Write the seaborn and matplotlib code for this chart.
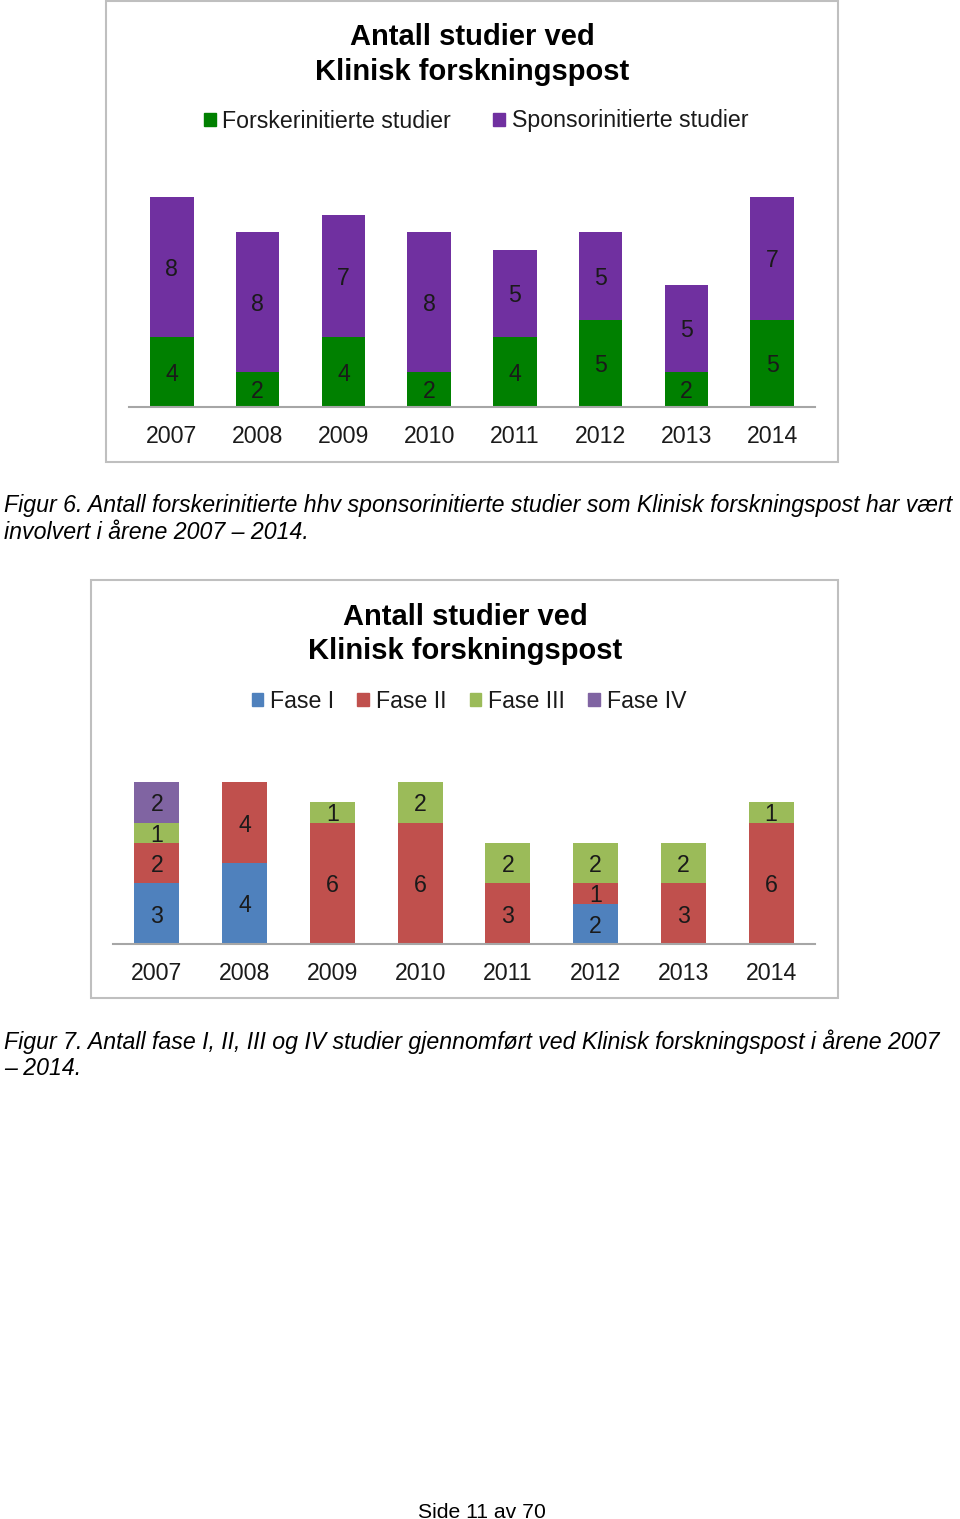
import numpy as np
import pandas as pd
import seaborn as sns
import matplotlib.pyplot as plt
from matplotlib.patches import Patch, Rectangle

# data read from the page
years = ['2007', '2008', '2009', '2010', '2011', '2012', '2013', '2014']

forsker = [4, 2, 4, 2, 4, 5, 2, 5]
sponsor = [8, 8, 7, 8, 5, 5, 5, 7]

fase1 = [3, 4, 0, 0, 0, 2, 0, 0]
fase2 = [2, 4, 6, 6, 3, 1, 3, 6]
fase3 = [1, 0, 1, 2, 2, 2, 2, 1]
fase4 = [2, 0, 0, 0, 0, 0, 0, 0]

W, H = 960, 1519

sns.set_theme(style='white')
plt.rcParams['font.family'] = ['Liberation Sans', 'DejaVu Sans']

fig = plt.figure(figsize=(W / 100, H / 100), dpi=100)
fig.patch.set_facecolor('white')

FS = 16.7
TXT = '#1a1a1a'


def fx(px):
    return px / W


def fy(py):
    return 1 - py / H


def stacked(ax, layers, colors):
    # seaborn has no stacking, so draw cumulative totals from the top layer down
    cum = np.cumsum(np.array(layers), axis=0)
    for i in range(len(layers) - 1, -1, -1):
        df = pd.DataFrame({'year': years, 'val': cum[i]})
        sns.barplot(data=df, x='year', y='val', color=colors[i], saturation=1,
                    width=0.51, errorbar=None, linewidth=0, ax=ax)
    for i, layer in enumerate(layers):
        for j, v in enumerate(layer):
            if v > 0:
                ax.text(j, cum[i][j] - v / 2, str(v), ha='center', va='center_baseline',
                        fontsize=FS, color=TXT)
    for s in ['top', 'left', 'right']:
        ax.spines[s].set_visible(False)
    ax.spines['bottom'].set_color('#a6a6a6')
    ax.spines['bottom'].set_linewidth(1.5)
    ax.set_yticks([])
    ax.set_xlabel('')
    ax.set_ylabel('')
    ax.set_xlim(-0.5, len(years) - 0.5)
    ax.tick_params(axis='x', length=0, labelsize=FS, pad=13, labelcolor=TXT)
    ax.set_facecolor('none')


def box(x0, y0, x1, y1):
    fig.patches.append(Rectangle((fx(x0), fy(y1)), fx(x1 - x0), (y1 - y0) / H,
                                 transform=fig.transFigure, fill=False,
                                 edgecolor='#bfbfbf', linewidth=1.5))


def title(x, y, s):
    fig.text(fx(x), fy(y), s, ha='center', va='center_baseline',
             fontsize=21, fontweight='bold', color='black')


def caption(y, s):
    fig.text(fx(4), fy(y), s, ha='left', va='center_baseline',
             fontsize=16.7, fontstyle='italic', color='black')


# ---- chart 1 ----
box(106, 1, 838, 462)
title(472, 34, 'Antall studier ved')
title(472, 69, 'Klinisk forskningspost')

ax1 = fig.add_axes([fx(129), fy(407), fx(815 - 129), (407 - 197) / H])
c1 = ['#008000', '#7030a0']
stacked(ax1, [forsker, sponsor], c1)
ax1.set_ylim(0, 12)
fig.legend(handles=[Patch(color=c1[0], label='Forskerinitierte studier'),
                    Patch(color=c1[1], label='Sponsorinitierte studier')],
           loc='center', bbox_to_anchor=(fx(476), fy(121)), ncol=2, frameon=False,
           fontsize=FS, handlelength=0.5, handleheight=0.5, handletextpad=0.3,
           columnspacing=1.8, labelcolor=TXT)

caption(503, 'Figur 6. Antall forskerinitierte hhv sponsorinitierte studier '
        'som Klinisk forskningspost har vært')
caption(530, 'involvert i årene 2007 – 2014.')

# ---- chart 2 ----
box(91, 580, 838, 998)
title(465, 614, 'Antall studier ved')
title(465, 648, 'Klinisk forskningspost')

ax2 = fig.add_axes([fx(113), fy(944), fx(815 - 113), (944 - 782) / H])
c2 = ['#4f81bd', '#c0504d', '#9bbb59', '#8064a2']
stacked(ax2, [fase1, fase2, fase3, fase4], c2)
ax2.set_ylim(0, 8)
fig.legend(handles=[Patch(color=c, label=l) for c, l in
                    zip(c2, ['Fase I', 'Fase II', 'Fase III', 'Fase IV'])],
           loc='center', bbox_to_anchor=(fx(469), fy(701)), ncol=4, frameon=False,
           fontsize=FS, handlelength=0.5, handleheight=0.5, handletextpad=0.3,
           columnspacing=1.0, labelcolor=TXT)

caption(1039, 'Figur 7. Antall fase I, II, III og IV studier gjennomført ved '
        'Klinisk forskningspost i årene 2007')
caption(1066, '– 2014.')

fig.text(fx(482), fy(1510), 'Side 11 av 70', ha='center', va='center_baseline',
         fontsize=15.2, color='black')

fig.savefig('out.png', dpi=100, facecolor='white')
